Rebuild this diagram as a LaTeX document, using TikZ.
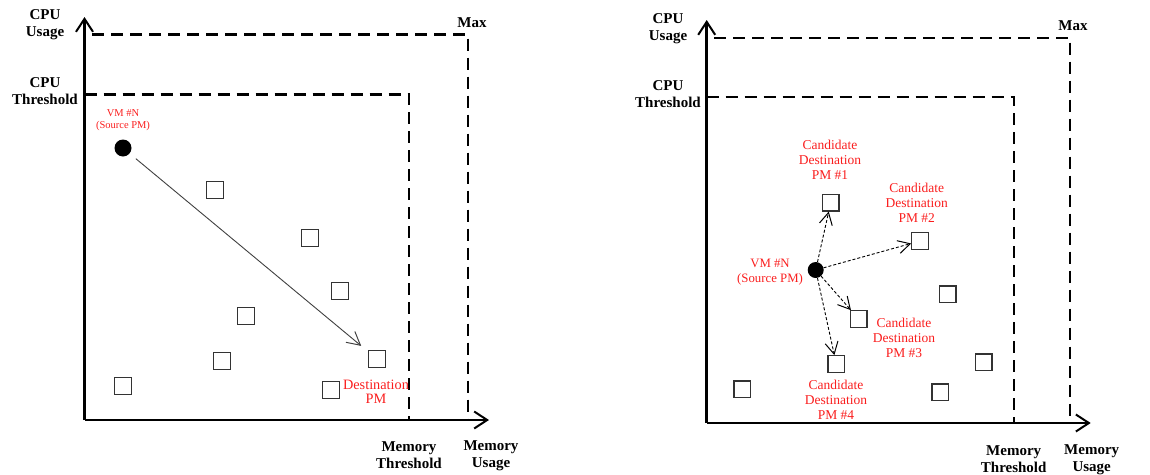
\documentclass[tikz,border=0pt]{standalone}
\usepackage{fontspec}
\setmainfont{Liberation Serif}
\usetikzlibrary{arrows.meta}
\definecolor{lblred}{RGB}{250,30,30}
\begin{document}
\begin{tikzpicture}[x=1pt,y=-1pt,
  axis/.style={line width=2.6pt,-{Straight Barb[length=13pt,width=17pt,line width=2pt]}},
  limit/.style={line width=2.2pt,dash pattern=on 12pt off 7pt},
  pm/.style={draw=black!80,line width=1.2pt,minimum size=16.5pt,inner sep=0pt,fill=white},
  vm/.style={circle,fill=black,minimum size=17pt,inner sep=0pt},
  axlabel/.style={font=\fontsize{15}{17}\selectfont\bfseries,align=center,inner sep=0pt},
  redlabel/.style={text=lblred,align=center,inner sep=0pt,font=\fontsize{13.5}{15}\selectfont},
  move/.style={draw=black!75,line width=0.9pt,-{Straight Barb[length=13pt,width=14pt,line width=1pt]}},
  cand/.style={line width=0.9pt,dash pattern=on 3pt off 2pt,-{Straight Barb[length=12pt,width=13pt,line width=1pt]}}]
\useasboundingbox (0,0) rectangle (1150,474);

% ---------------- left panel ----------------
\coordinate (Lo) at (84.5,420);
\coordinate (Ly) at (84.5,17);
\coordinate (Lx) at (489,420);
\draw[limit] (92,34.5) -- (468,34.5) -- (468,420);
\draw[limit] (84.5,94.5) -- (409,94.5) -- (409,420);
\draw[axis] (Lo) -- (Ly);
\draw[axis] (Lo) -- (Lx);

\node[axlabel] (Lcpuu) at (45,25) {CPU\\Usage};
\node[axlabel] (Lcput) at (45,91) {CPU\\Threshold};
\node[axlabel] (Lmax) at (472,23) {Max};
\node[axlabel] (Lmemt) at (409,455) {Memory\\Threshold};
\node[axlabel] (Lmemu) at (491,456) {Memory\\Usage};

\node[pm] (L1) at (215,190) {};
\node[pm] (L2) at (310,238) {};
\node[pm] (L3) at (340,291) {};
\node[pm] (L4) at (246,316) {};
\node[pm] (L5) at (222,361) {};
\node[pm] (L6) at (123,386) {};
\node[pm] (Ldest) at (377,359) {};
\node[pm] (L8) at (331,390) {};

\node[vm] (Lvm) at (123,148) {};
\node[redlabel,font=\fontsize{10.5}{12}\selectfont] (Lvmlab) at (123,120) {VM \#N\\(Source PM)};
\node[redlabel,font=\fontsize{14.3}{14.5}\selectfont] (Ldestlab) at (376,392) {Destination\\PM};

\draw[move,shorten <=8pt,shorten >=9pt] (Lvm) -- (Ldest);

% ---------------- right panel ----------------
\coordinate (Ro) at (706.7,423);
\coordinate (Ry) at (706.7,20);
\coordinate (Rx) at (1090.7,423);
\draw[limit] (714,37.7) -- (1070,37.7) -- (1070,423);
\draw[limit] (706.7,97.3) -- (1013.7,97.3) -- (1013.7,423);
\draw[axis] (Ro) -- (Ry);
\draw[axis] (Ro) -- (Rx);

\node[axlabel] (Rcpuu) at (668,28.5) {CPU\\Usage};
\node[axlabel] (Rcput) at (668,94) {CPU\\Threshold};
\node[axlabel] (Rmax) at (1073,26) {Max};
\node[axlabel] (Rmemt) at (1013.7,459) {Memory\\Threshold};
\node[axlabel] (Rmemu) at (1091.7,459.5) {Memory\\Usage};

\node[pm] (R1) at (830.7,202.7) {};
\node[pm] (R2) at (920,241) {};
\node[pm] (R3) at (858.7,319) {};
\node[pm] (R4) at (836.3,364) {};
\node[pm] (R5) at (947.7,294.3) {};
\node[pm] (R6) at (983.7,362.3) {};
\node[pm] (R7) at (940.3,392.3) {};
\node[pm] (R8) at (742.3,389.3) {};

\node[vm,minimum size=16pt] (Rvm) at (815.7,270) {};
\node[redlabel,font=\fontsize{12.8}{15}\selectfont] (Rvmlab) at (770,272) {VM \#N\\(Source PM)};

\node[redlabel] (R1lab) at (830,160) {Candidate\\Destination\\PM \#1};
\node[redlabel] (R2lab) at (916.7,203) {Candidate\\Destination\\PM \#2};
\node[redlabel] (R3lab) at (904,338) {Candidate\\Destination\\PM \#3};
\node[redlabel] (R4lab) at (836,400) {Candidate\\Destination\\PM \#4};

\draw[cand] (Rvm) -- (R1);
\draw[cand] (Rvm) -- (R2);
\draw[cand] (Rvm) -- (R3);
\draw[cand] (Rvm) -- (R4);
\end{tikzpicture}
\end{document}
